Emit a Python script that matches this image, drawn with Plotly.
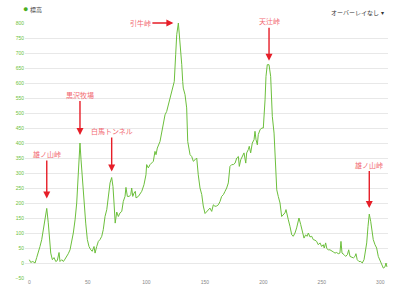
import plotly.graph_objects as go

distance = [0, 1.2, 3, 4.9, 6.3, 7.7, 9.1, 10.6, 12, 13.4, 14.9, 16.2, 17.1, 18.3, 19.7, 21.1, 22.6, 23.9, 25.4, 26.2,
            27.7, 29.1, 30.5, 32, 33.3, 34.8, 36.2, 37.6, 39.1, 40.5, 41.9, 43.3, 44.2, 45.3, 46.8, 48.2, 49.6, 51, 52.5, 53.8,
            55.3, 56.2, 57.6, 59, 60.4, 61.9, 63.2, 64.7, 66.2, 67.5, 69, 70.4, 71.5, 72.4, 73.4, 74.7, 76.1, 77.5, 79, 80.3,
            81.8, 82.6, 83.8, 85.5, 86.7, 87.5, 88.4, 89.5, 90.6, 91.2, 93.2, 96.1, 98, 99.7, 100.3, 101.7, 103.2, 106, 107.4, 108.3,
            109.4, 111.7, 113.2, 114.5, 116, 117.4, 118.8, 120.3, 121.7, 123.1, 123.9, 125.1, 126, 127.4, 128.8, 130.3, 131.1, 131.6, 133.1, 134.5,
            135.4, 137.4, 138.8, 140.2, 141.6, 143.1, 144.4, 145.9, 147.4, 148.7, 150.2, 151.6, 153, 154.4, 155.9, 157.3, 158.7, 160.1, 161.6, 163,
            164.4, 165.9, 167.3, 168.7, 170.1, 171.5, 173, 174.4, 175.9, 177.3, 178.7, 179.5, 180.7, 182.4, 183.5, 185, 185.8, 187.2, 188, 189.2,
            190.6, 192.1, 192.9, 193.8, 194.9, 195.7, 197.2, 198.7, 200, 201.5, 202.3, 203.4, 204.9, 206.3, 207.7, 209.2, 210, 211.5, 212.8, 214.3,
            215.7, 217.1, 218.5, 219.4, 220.5, 221.4, 222.8, 224.3, 225.6, 227.1, 228.5, 229.9, 230.5, 232, 233.7, 234.8, 236.2, 237.4, 238.5, 239.9,
            241.4, 242.7, 244.2, 245.6, 247, 248.5, 249.9, 251.3, 252.1, 253.3, 254.3, 255.6, 257, 258.4, 259.8, 261.3, 262.7, 264.1, 265.5, 266.4,
            267.3, 269, 270.4, 271.9, 273, 274.1, 275.5, 277, 278.4, 279.2, 280.3, 281.8, 283.3, 284.6, 286.1, 287.2, 288.4, 289.5, 290.6, 291.8,
            292.9, 294, 295.5, 296.9, 298.3, 299.7, 301.2, 302.6, 304, 304.9, 305.7]
elevation = [11, 2, 5, 0, 18, 34, 55, 78, 111, 144, 182, 134, 89, 33, 11, 18, 5, 8, 35, 5,
             11, 5, 13, 22, 31, 44, 67, 100, 144, 200, 300, 400, 344, 278, 200, 133, 78, 55, 44, 39,
             55, 33, 55, 72, 78, 89, 111, 155, 178, 222, 267, 285, 255, 200, 133, 170, 155, 167, 172, 205,
             222, 252, 222, 222, 228, 250, 222, 233, 239, 217, 222, 239, 261, 294, 328, 317, 328, 339, 372, 361,
             383, 405, 439, 461, 494, 505, 528, 550, 572, 594, 605, 694, 761, 800, 739, 661, 605, 583, 561, 517,
             405, 361, 355, 339, 344, 350, 294, 250, 228, 190, 165, 170, 178, 183, 172, 194, 189, 190, 194, 205,
             222, 228, 239, 250, 267, 322, 328, 328, 333, 350, 355, 322, 344, 361, 367, 333, 367, 378, 389, 367,
             400, 411, 439, 411, 394, 428, 444, 450, 450, 544, 622, 661, 661, 622, 489, 433, 378, 244, 222, 200,
             155, 160, 167, 178, 155, 144, 122, 94, 89, 100, 117, 139, 150, 128, 100, 83, 94, 89, 100, 87,
             89, 78, 76, 72, 61, 67, 55, 61, 50, 67, 48, 44, 44, 39, 37, 33, 35, 31, 33, 72,
             33, 28, 22, 28, 44, 22, 20, 17, 22, 31, 11, 5, 5, 0, 11, 33, 67, 122, 163, 139,
             105, 78, 61, 50, 22, 11, -6, -17, -13, 0, -13]

x_ticks = [0, 50, 100, 150, 200, 250, 300]
y_ticks = [-50, 0, 50, 100, 150, 200, 250, 300, 350, 400, 450, 500, 550, 600, 650, 700, 750, 800]

# labels: (name, peak distance, standoff px, ax px, ay px)
labels = [
    ("雄ノ山峠", 14.9, 10, 0, -54),
    ("黒沢牧場", 43.3, 8, 0, -48),
    ("白馬トンネル", 70.4, 6, 0, -46),
    ("引牛峠", 127.4, 5, -38, 0),
    ("天辻峠", 204.2, 4, 0, -43),
    ("雄ノ山峠", 290.6, 6, 0, -49),
]

FONT = "Liberation Sans, Noto Sans CJK JP, sans-serif"
LINE_GREEN = "#6cbf3c"

fig = go.Figure()
fig.add_trace(go.Scatter(x=distance, y=elevation, mode="lines",
                         line=dict(color=LINE_GREEN, width=1), showlegend=False,
                         hoverinfo="skip"))

annotations = []
for name, xd, so, ax, ay in labels:
    idx = min(range(len(distance)), key=lambda i: abs(distance[i] - xd))
    annotations.append(dict(
        x=distance[idx], y=max(elevation[max(0, idx - 1):idx + 2]), xref="x", yref="y",
        text=name, showarrow=True, arrowhead=2, arrowsize=1, arrowwidth=1.4,
        arrowcolor="#e61e28", standoff=so, ax=ax, ay=ay, axref="pixel", ayref="pixel",
        font=dict(size=7, color="#f26a72", family=FONT)))

annotations.append(dict(x=-0.012, y=1.055, xref="paper", yref="paper", xanchor="left", yanchor="middle",
                        text="<span style='color:#4cae1e;font-size:9px'>●</span> 標高", showarrow=False,
                        font=dict(size=6, color="#444", family=FONT)))
annotations.append(dict(x=0.995, y=1.04, xref="paper", yref="paper", xanchor="right", yanchor="middle",
                        text="オーバーレイなし ▾", showarrow=False,
                        font=dict(size=6, color="#333", family=FONT)))

fig.update_layout(
    width=400, height=291,
    margin=dict(l=25, r=12, t=23, b=13),
    paper_bgcolor="white", plot_bgcolor="white",
    annotations=annotations,
    xaxis=dict(range=[-3.7, 306.6], tickvals=x_ticks, showgrid=False, zeroline=False, automargin=False,
               showline=False, ticks="", tickfont=dict(size=5, color="#888", family=FONT)),
    yaxis=dict(range=[-50, 800], tickvals=y_ticks, showgrid=True, gridcolor="#e8e8e8", gridwidth=1,
               zeroline=False, showline=False, ticks="", automargin=False,
               tickfont=dict(size=5, color="#6cbf3c", family=FONT)),
    showlegend=False,
)

fig.write_html("out.html")
